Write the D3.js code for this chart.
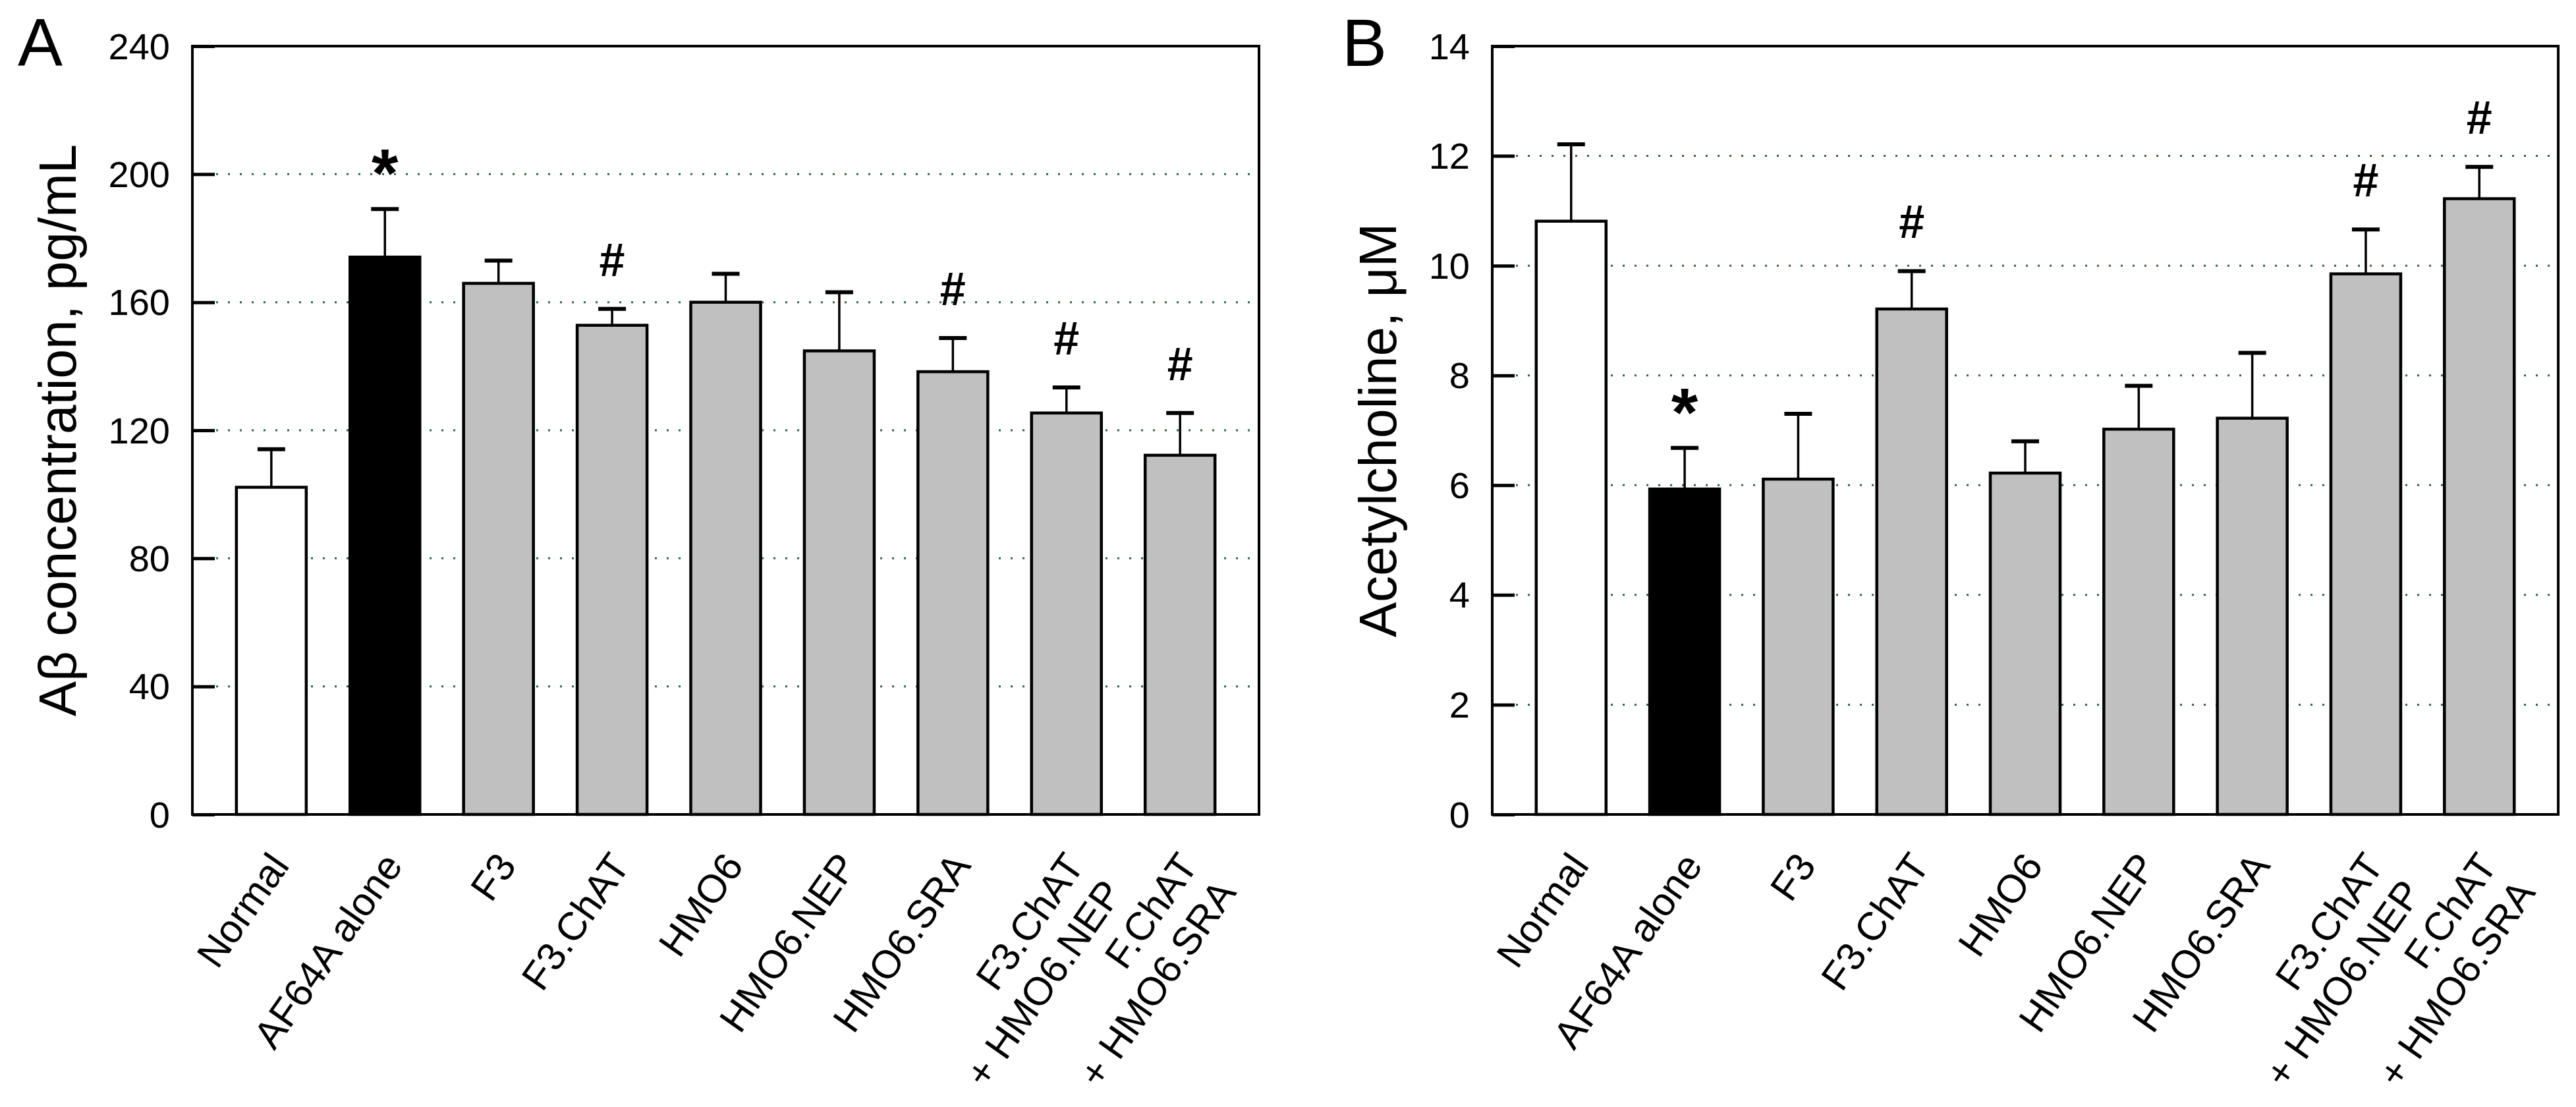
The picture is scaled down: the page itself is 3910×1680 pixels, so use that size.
<!DOCTYPE html>
<html>
<head>
<meta charset="utf-8">
<script src="https://cdn.jsdelivr.net/npm/d3@7"></script>
<style>
  html, body { margin: 0; padding: 0; background: #ffffff; }
  svg { display: block; }
  text { font-family: "Liberation Sans", Arial, Helvetica, sans-serif; fill: #000; }
</style>
</head>
<body>
<svg id="chart" width="3910" height="1680"></svg>
<script>
// ---------- data ----------
const categories = ["Normal", "AF64A alone", "F3", "F3.ChAT", "HMO6", "HMO6.NEP", "HMO6.SRA",
                    "F3.ChAT\n+ HMO6.NEP", "F.ChAT\n+ HMO6.SRA"];
const barFills = ["#ffffff", "#000000", "#c0c0c0", "#c0c0c0", "#c0c0c0", "#c0c0c0", "#c0c0c0", "#c0c0c0", "#c0c0c0"];

const abetaMean  = [102.2, 174.1, 165.9, 152.8, 160.0, 144.8, 138.3, 125.4, 112.2];
const abetaError = [11.9, 15.0, 7.1, 5.1, 8.9, 18.3, 10.5, 8.0, 13.2];
const abetaMarks = ["", "*", "", "#", "", "", "#", "#", "#"];
const abetaTicks = [0, 40, 80, 120, 160, 200, 240];

const achMean  = [10.81, 5.93, 6.11, 9.21, 6.22, 7.02, 7.22, 9.85, 11.22];
const achError = [1.40, 0.75, 1.19, 0.69, 0.58, 0.79, 1.19, 0.81, 0.58];
const achMarks = ["", "*", "", "#", "", "", "", "#", "#"];
const achTicks = [0, 2, 4, 6, 8, 10, 12, 14];

const panels = [
  { letter: "A", title: "A\u03B2 concentration, pg/mL", mean: abetaMean, err: abetaError, marks: abetaMarks,
    ticks: abetaTicks, left: 292, right: 1911, letterX: 27, titleX: 115 },
  { letter: "B", title: "Acetylcholine, \u03BCM", mean: achMean, err: achError, marks: achMarks,
    ticks: achTicks, left: 2265, right: 3883, letterX: 2037, titleX: 2119 }
];

// ---------- drawing ----------
const svg = d3.select("#chart");
svg.append("rect").attr("width", 3910).attr("height", 1680).attr("fill", "#fff");
const plotTop = 70, plotBottom = 1236;
const barW = 106, capW = 42;

panels.forEach(p => {
  const g = svg.append("g");
  const x = d3.scalePoint().domain(categories).range([p.left, p.right]).padding(0.695);
  const y = d3.scaleLinear().domain([p.ticks[0], p.ticks[p.ticks.length - 1]]).range([plotBottom, plotTop]);

  // gridlines
  g.selectAll("line.grid").data(p.ticks.slice(1, -1)).join("line")
    .attr("class", "grid")
    .attr("x1", p.left).attr("x2", p.right)
    .attr("y1", d => y(d)).attr("y2", d => y(d))
    .attr("stroke", "#2f6440").attr("stroke-width", 3)
    .attr("stroke-dasharray", "3 15");

  // bars
  g.selectAll("rect.bar").data(p.mean).join("rect")
    .attr("class", "bar")
    .attr("x", (d, i) => x(categories[i]) - barW / 2)
    .attr("y", d => y(d))
    .attr("width", barW)
    .attr("height", d => y(0) - y(d))
    .attr("fill", (d, i) => barFills[i])
    .attr("stroke", "#000").attr("stroke-width", 4.5);

  // error bars
  g.selectAll("line.stem").data(p.mean).join("line")
    .attr("class", "stem")
    .attr("x1", (d, i) => x(categories[i])).attr("x2", (d, i) => x(categories[i]))
    .attr("y1", d => y(d)).attr("y2", (d, i) => y(d + p.err[i]))
    .attr("stroke", "#000").attr("stroke-width", 3.5);
  g.selectAll("line.cap").data(p.mean).join("line")
    .attr("class", "cap")
    .attr("x1", (d, i) => x(categories[i]) - capW / 2).attr("x2", (d, i) => x(categories[i]) + capW / 2)
    .attr("y1", (d, i) => y(d + p.err[i])).attr("y2", (d, i) => y(d + p.err[i]))
    .attr("stroke", "#000").attr("stroke-width", 6);

  // significance marks
  g.selectAll("text.mark").data(p.marks).join("text")
    .attr("class", "mark")
    .attr("x", (d, i) => x(categories[i]))
    .attr("y", (d, i) => y(p.mean[i] + p.err[i]) - (d === "*" ? 18 : 50))
    .attr("text-anchor", "middle")
    .attr("font-weight", "bold")
    .attr("font-size", d => d === "*" ? 104 : 70)
    .text(d => d);

  // frame
  g.append("rect").attr("x", p.left).attr("y", plotTop)
    .attr("width", p.right - p.left).attr("height", plotBottom - plotTop)
    .attr("fill", "none").attr("stroke", "#000").attr("stroke-width", 4);

  // y axis (ticks inward)
  const yAxis = d3.axisRight(y).tickValues(p.ticks).tickSize(34).tickFormat("");
  const ag = g.append("g").attr("transform", `translate(${p.left},0)`).call(yAxis);
  ag.select(".domain").remove();
  ag.selectAll(".tick line").attr("stroke", "#000").attr("stroke-width", 5);

  // tick labels
  g.selectAll("text.tl").data(p.ticks).join("text")
    .attr("class", "tl")
    .attr("x", p.left - 34).attr("y", d => y(d))
    .attr("text-anchor", "end").attr("dominant-baseline", "central")
    .attr("font-size", 56)
    .text(d => d);

  // category labels rotated
  categories.forEach((c, i) => {
    const lines = c.split("\n");
    const t = g.append("text")
      .attr("transform", `translate(${x(c) + 29},${plotBottom + 78}) rotate(-55)`)
      .attr("text-anchor", "end")
      .attr("font-size", 60);
    lines.forEach((ln, k) => {
      t.append("tspan").attr("x", 0).attr("dy", k === 0 ? 0 : "1.18em").text(ln);
    });
  });

  // axis title
  g.append("text")
    .attr("transform", `translate(${p.titleX},${(plotTop + plotBottom) / 2}) rotate(-90)`)
    .attr("text-anchor", "middle")
    .attr("font-size", 80)
    .text(p.title);

  // panel letter
  g.append("text").attr("x", p.letterX).attr("y", 100)
    .attr("font-size", 102)
    .text(p.letter);
});
</script>
</body>
</html>
